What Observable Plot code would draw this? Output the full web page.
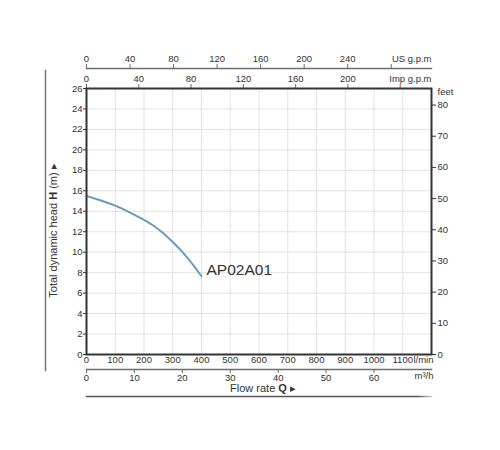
<!DOCTYPE html>
<html>
<head>
<meta charset="utf-8">
<script src="https://cdn.jsdelivr.net/npm/d3@7"></script>
<script src="https://cdn.jsdelivr.net/npm/@observablehq/plot@0.6"></script>
<style>
  html, body { margin: 0; padding: 0; background: #fff; }
  #chart svg { display: block; }
</style>
</head>
<body>
<div id="chart"></div>
<script>
// Pump curve AP02A01 : flow (l/min) vs total dynamic head (m)
const flowLpm = [0, 50, 100, 150, 200, 250, 300, 350, 400];
const headM   = [15.5, 15.05, 14.55, 13.9, 13.15, 12.25, 11.0, 9.5, 7.65];
const seriesName = "AP02A01";

// Axis tick values
const lpmTicks  = [0, 100, 200, 300, 400, 500, 600, 700, 800, 900, 1000, 1100];
const headTicks = [0, 2, 4, 6, 8, 10, 12, 14, 16, 18, 20, 22, 24, 26];
const feetTicks = [0, 10, 20, 30, 40, 50, 60, 70, 80];
const usGpmTicks  = [0, 40, 80, 120, 160, 200, 240, 280];
const impGpmTicks = [0, 40, 80, 120, 160, 200, 240];
const m3hTicks    = [0, 10, 20, 30, 40, 50, 60];

// Unit conversions to the primary scales (l/min, m)
const LPM_PER_USGPM  = 3.78541;
const LPM_PER_IMPGPM = 4.54609;
const LPM_PER_M3H    = 1000 / 60;
const M_PER_FOOT     = 0.3048;

const data = flowLpm.map((q, i) => ({q, h: headM[i]}));
const last = [data[data.length - 1]];

const ink = "#333";
const axisGray = "#6d6d6d";

const chart = Plot.plot({
  width: 500,
  height: 450,
  marginLeft: 86,
  marginRight: 69,
  marginTop: 88,
  marginBottom: 96,
  style: {fontFamily: "Liberation Sans, Arial, sans-serif", fontSize: "9.5px", color: ink, background: "#fff"},
  x: {domain: [0, 1200]},
  y: {domain: [0, 26]},
  marks: [
    Plot.gridX(d3.range(0, 1201, 100), {stroke: "#e3e3e3", strokeOpacity: 1}),
    Plot.gridY(headTicks, {stroke: "#e3e3e3", strokeOpacity: 1}),

    // bottom l/min axis
    Plot.axisX(lpmTicks, {anchor: "bottom", tickSize: 0, tickPadding: 2, label: null, fill: ink, tickFormat: d => String(d)}),
    Plot.text(["l/min"], {frameAnchor: "bottom-right", textAnchor: "end", lineAnchor: "top", dy: 2, dx: 2, fill: ink}),

    // m3/h axis
    Plot.frame({anchor: "bottom", dy: 15, stroke: axisGray, strokeWidth: 1.5}),
    Plot.axisX(m3hTicks.map(v => v * LPM_PER_M3H), {anchor: "bottom", dy: 15, tickSize: 4, tickPadding: 1, label: null, fill: ink, stroke: axisGray,
      tickFormat: d => String(Math.round(d / LPM_PER_M3H))}),
    Plot.text(["m³/h"], {frameAnchor: "bottom-right", textAnchor: "end", lineAnchor: "top", dy: 18, dx: 2, fill: ink}),

    // bottom decorative line
    Plot.frame({anchor: "bottom", dy: 42, stroke: "url(#fadeLine)", strokeWidth: 1.5, className: "fadeline"}),

    // Flow rate label
    Plot.text(["Flow rate Q ▸"], {frameAnchor: "bottom", textAnchor: "middle", lineAnchor: "top", dy: 30, dx: 4, fontSize: 11, fill: ink, className: "flowlabel"}),

    // Imp gpm axis (top of frame)
    Plot.axisX(impGpmTicks.map(v => v * LPM_PER_IMPGPM), {anchor: "top", tickSize: 5, tickPadding: 2, label: null, fill: ink, stroke: axisGray,
      tickFormat: d => { const v = Math.round(d / LPM_PER_IMPGPM); return v === 240 ? "" : String(v); }}),
    Plot.text(["Imp g.p.m"], {frameAnchor: "top-right", textAnchor: "end", lineAnchor: "bottom", dy: -7, fill: ink}),

    // US gpm axis
    Plot.frame({anchor: "top", dy: -20, stroke: axisGray, strokeWidth: 1.5}),
    Plot.axisX(usGpmTicks.map(v => v * LPM_PER_USGPM), {anchor: "top", dy: -20, tickSize: 5, tickPadding: 2, label: null, fill: ink, stroke: axisGray,
      tickFormat: d => { const v = Math.round(d / LPM_PER_USGPM); return v === 280 ? "" : String(v); }}),
    Plot.text(["US g.p.m"], {frameAnchor: "top-right", textAnchor: "end", lineAnchor: "bottom", dy: -27, fill: ink}),

    // left head axis
    Plot.axisY(headTicks, {anchor: "left", tickSize: 3, tickPadding: 1, label: null, fill: ink, stroke: ink}),
    Plot.text(["Total dynamic head H (m) ▸"], {frameAnchor: "left", textAnchor: "middle", rotate: -90, dx: -33, dy: 9, fontSize: 11, fill: ink, className: "headlabel"}),
    Plot.frame({anchor: "left", dx: -41, insetTop: -18, insetBottom: -16, stroke: "#777", strokeWidth: 1.5}),

    // right feet axis
    Plot.axisY(feetTicks.map(f => f * M_PER_FOOT), {anchor: "right", tickSize: 4, tickPadding: 2, label: null, fill: ink, stroke: ink,
      tickFormat: d => String(Math.round(d / M_PER_FOOT))}),
    Plot.text(["feet"], {frameAnchor: "top-right", textAnchor: "start", dx: 6, fill: ink}),

    // curve
    Plot.line(data, {x: "q", y: "h", curve: "natural", stroke: "#6b9cbc", strokeWidth: 2}),
    Plot.text(last, {x: "q", y: "h", text: () => seriesName, textAnchor: "start", dx: 5, dy: -6, fontSize: 15.5, fill: ink}),

    Plot.frame({stroke: ink, strokeWidth: 2})
  ]
});

// gradient that fades the right end of the bottom decorative line
(function addFade() {
  const ns = "http://www.w3.org/2000/svg";
  const [x0, x1] = chart.scale("x").range;
  const defs = document.createElementNS(ns, "defs");
  const g = document.createElementNS(ns, "linearGradient");
  g.setAttribute("id", "fadeLine");
  g.setAttribute("gradientUnits", "userSpaceOnUse");
  g.setAttribute("x1", x0); g.setAttribute("x2", x1);
  g.setAttribute("y1", 0); g.setAttribute("y2", 0);
  [[0, "#555"], [0.96, "#555"], [1, "#cfcfcf"]].forEach(([o, c]) => {
    const s = document.createElementNS(ns, "stop");
    s.setAttribute("offset", o); s.setAttribute("stop-color", c);
    g.append(s);
  });
  defs.append(g);
  chart.prepend(defs);
})();

// bold the symbols in the axis titles
function boldSymbol(cls, before, sym, after) {
  chart.querySelectorAll("." + cls + " text").forEach(t => {
    t.textContent = "";
    const ns = "http://www.w3.org/2000/svg";
    const a = document.createElementNS(ns, "tspan"); a.textContent = before;
    const b = document.createElementNS(ns, "tspan"); b.textContent = sym; b.setAttribute("font-weight", "bold");
    const c = document.createElementNS(ns, "tspan"); c.textContent = after;
    t.append(a, b, c);
  });
}
boldSymbol("flowlabel", "Flow rate ", "Q", " ▸");
boldSymbol("headlabel", "Total dynamic head ", "H", " (m) ▸");

document.getElementById("chart").append(chart);
</script>
</body>
</html>
